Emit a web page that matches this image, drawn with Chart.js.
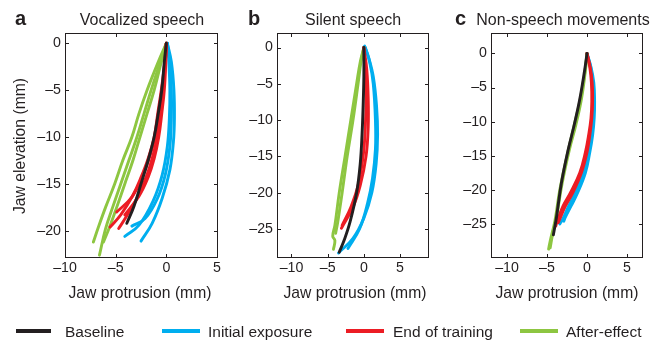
<!DOCTYPE html>
<html>
<head>
<meta charset="utf-8">
<script src="https://cdn.jsdelivr.net/npm/chart.js@4.4.0/dist/chart.umd.min.js"></script>
<style>
  body { margin:0; background:#fff; width:655px; height:341px; overflow:hidden; position:relative;
         font-family:"Liberation Sans", Arial, Helvetica, sans-serif; color:#231f20; }
  canvas { position:absolute; left:0; top:0; }
  .t { position:absolute; font-size:15.7px; line-height:15.7px; white-space:nowrap; }
  .h { position:absolute; font-size:16px; line-height:16px; white-space:nowrap; }
  .g { position:absolute; font-size:15.5px; line-height:15.5px; white-space:nowrap; }
  .c { transform:translateX(-50%); }
  .lt { position:absolute; font-size:20px; line-height:20px; font-weight:bold; }
  .yl { position:absolute; font-size:15.7px; line-height:15.7px; white-space:nowrap;
        transform:translate(-50%,-50%) rotate(-90deg); }
  .sw { position:absolute; height:4px; top:329px; }
</style>
</head>
<body>
<canvas id="pa" width="655" height="341"></canvas>
<canvas id="pb" width="655" height="341"></canvas>
<canvas id="pc" width="655" height="341"></canvas>

<div class="lt" style="left:15px;top:8px">a</div>
<div class="lt" style="left:248px;top:8px">b</div>
<div class="lt" style="left:455px;top:8px">c</div>
<div class="h c" style="left:142px;top:11.5px">Vocalized speech</div>
<div class="h c" style="left:353px;top:11.5px">Silent speech</div>
<div class="h c" style="left:563px;top:11.5px">Non-speech movements</div>

<div class="yl" style="left:20px;top:146px">Jaw elevation (mm)</div>
<div class="t c" style="left:140px;top:285px">Jaw protrusion (mm)</div>
<div class="t c" style="left:355px;top:285px">Jaw protrusion (mm)</div>
<div class="t c" style="left:567px;top:285px">Jaw protrusion (mm)</div>

<div class="sw" style="left:16px;width:35px;background:#231f20"></div>
<div class="g" style="left:65px;top:324px">Baseline</div>
<div class="sw" style="left:162px;width:38px;background:#00aeef"></div>
<div class="g" style="left:208px;top:324px">Initial exposure</div>
<div class="sw" style="left:346px;width:38px;background:#ec1c24"></div>
<div class="g" style="left:393px;top:324px">End of training</div>
<div class="sw" style="left:520px;width:38px;background:#8dc641"></div>
<div class="g" style="left:566px;top:324px">After-effect</div>

<script>
// tick values
const xTicks = [-10, -5, 0, 5];
const yTicksA = [0, -5, -10, -15, -20];
const yTicksBC = [0, -5, -10, -15, -20, -25];

// a: vocalized speech, traces of [protrusion, elevation]
const vocBaseline = [
  [[0,0],[-0.2,-2],[-0.45,-5],[-0.8,-7.5],[-1.2,-10],[-1.8,-12.5],[-2.5,-15],[-3.2,-17.4],[-3.9,-19.2]]
];
const vocInitial = [
  [[0.1,0],[0.5,-2],[0.75,-5],[0.8,-8],[0.7,-10.5],[0.35,-13.5],[-0.4,-16.5],[-1.4,-19.2],[-2.5,-21.1]],
  [[0.1,0],[0.35,-2],[0.5,-5],[0.5,-8],[0.35,-11],[-0.1,-14],[-0.9,-16.6],[-2.1,-18.7],[-3.4,-19.5]],
  [[0.1,0],[0.25,-2],[0.35,-5],[0.3,-8],[0.1,-11],[-0.4,-14],[-1.3,-16.8],[-2.7,-19.4],[-4.1,-20.6]]
];
const vocEnd = [
  [[0,0],[-0.15,-2],[-0.5,-5],[-0.85,-7.5],[-1.2,-10],[-1.8,-12.3],[-2.5,-14.3],[-3.3,-16.2],[-4.5,-18.3],[-5.55,-19.6]],
  [[0,0],[-0.1,-2],[-0.3,-5],[-0.6,-7.5],[-0.9,-10],[-1.4,-12.3],[-2.0,-14.3],[-2.8,-16.3],[-3.9,-18.4],[-4.7,-19.75]],
  [[0,0],[-0.1,-2],[-0.4,-5],[-0.75,-7.5],[-1.1,-10],[-1.7,-12.3],[-2.4,-14.3],[-3.4,-16.4],[-4.9,-18.0]],
  [[0,0],[-0.05,-2],[-0.2,-5],[-0.45,-7.5],[-0.75,-10],[-1.2,-12.3],[-1.8,-14.3],[-2.7,-16.3],[-4.1,-18.3]]
];
const vocAfter = [
  [[0,0],[-0.8,-2],[-1.9,-5],[-2.7,-7.5],[-3.4,-10],[-4.3,-12.5],[-5.1,-15],[-6.0,-17.5],[-6.7,-19.6],[-7.2,-21.2]],
  [[0,0],[-0.6,-2],[-1.5,-5],[-2.2,-7.5],[-2.9,-10],[-3.7,-12.5],[-4.5,-15],[-5.3,-17.5],[-6.0,-19.8],[-6.6,-22.6]],
  [[0,0],[-0.5,-2],[-1.2,-5],[-1.9,-7.5],[-2.6,-10],[-3.3,-12.5],[-4.1,-15],[-4.9,-17.5],[-5.6,-19.6],[-6.2,-21.2]]
];

// b: silent speech
const silBaseline = [
  [[0,0],[0,-4],[-0.1,-8],[-0.25,-12],[-0.5,-16],[-1.0,-20],[-1.9,-24],[-2.7,-26.5],[-3.4,-28.2]]
];
const silInitial = [
  [[0.1,0.2],[0.7,-1.5],[1.3,-4],[1.75,-8],[1.9,-12],[1.7,-16],[1.1,-20],[0,-23.5],[-1.5,-26.3],[-3.5,-28.3]],
  [[0.2,0],[0.8,-2],[1.3,-5],[1.6,-10],[1.6,-14],[1.2,-18],[0.5,-21.5],[-0.6,-25],[-2.2,-27.7]]
];
const silEnd = [
  [[0,0],[0.4,-3],[0.6,-7],[0.6,-11],[0.3,-15],[-0.5,-19],[-1.5,-22],[-3.1,-24.9]],
  [[0,0],[0.2,-3],[0.3,-7],[0.2,-11],[-0.1,-15],[-0.8,-19],[-1.8,-22],[-3.0,-24.5]]
];
const silAfter = [
  [[0,0],[-0.5,-2],[-1.0,-5],[-1.8,-10],[-2.6,-15],[-3.4,-20],[-4.0,-24.5],[-4.3,-26],[-4.0,-26.6],[-4.2,-27.8]],
  [[0,0],[-0.4,-2],[-0.8,-5],[-1.5,-10],[-2.3,-15],[-3.0,-20],[-3.6,-24],[-3.9,-25.6]]
];

// c: non-speech movements
const nonBaseline = [
  [[0,0],[-0.3,-2.5],[-0.9,-6.7],[-1.6,-10.5],[-2.35,-14.1],[-3.2,-19],[-3.8,-23.9],[-4.2,-26.6]]
];
const nonInitial = [
  [[0,0],[0.45,-2],[0.75,-4.3],[0.85,-7],[0.8,-9.5],[0.55,-12],[0.2,-14.5],[-0.4,-17.5],[-1.5,-20.5],[-2.3,-22.4],[-3.0,-24.2],[-3.4,-25]],
  [[0,0],[0.5,-2],[0.85,-4.3],[0.95,-7],[0.9,-9.5],[0.7,-12],[0.35,-14.5],[-0.2,-17.5],[-1.2,-20.5],[-2.0,-22.4],[-2.7,-24.0],[-2.9,-24.6]]
];
const nonEnd = [
  [[0,0],[0.35,-2],[0.55,-4.3],[0.6,-7],[0.5,-9.5],[0.2,-12],[-0.2,-14.5],[-0.9,-17.5],[-2.1,-20.5],[-3.0,-22.4],[-3.6,-24.2],[-3.9,-25.3]],
  [[0,0],[0.4,-2],[0.65,-4.3],[0.7,-7],[0.6,-9.5],[0.35,-12],[0,-14.5],[-0.7,-17.5],[-1.8,-20.5],[-2.7,-22.4],[-3.3,-24.0],[-3.6,-24.8]]
];
const nonAfter = [
  [[0,0],[-0.2,-2.5],[-0.7,-6.7],[-1.4,-10.5],[-2.2,-14.1],[-3.1,-19],[-3.8,-23.9],[-4.3,-26.5],[-4.6,-28.5]],
  [[0,0],[-0.3,-3],[-0.9,-7],[-1.7,-11],[-2.5,-15],[-3.4,-20],[-4.0,-24.5],[-4.6,-27.5],[-4.8,-28.7]]
];

const COL = { base:'#231f20', init:'#00aeef', end:'#ec1c24', after:'#8dc641' };
const ink = '#231f20';

// box round the plot with inward ticks on all four sides
const boxTicks = {
  id: 'boxTicks',
  afterDraw(chart) {
    const { ctx, chartArea: a, scales: { x, y } } = chart;
    ctx.save();
    ctx.strokeStyle = ink;
    ctx.lineWidth = 1;
    ctx.strokeRect(a.left + 0.5, a.top + 0.5, a.right - a.left - 1, a.bottom - a.top - 1);
    ctx.beginPath();
    x.ticks.forEach(t => {
      const p = Math.round(x.getPixelForValue(t.value)) + 0.5;
      ctx.moveTo(p, a.bottom); ctx.lineTo(p, a.bottom - 4);
      ctx.moveTo(p, a.top); ctx.lineTo(p, a.top + 4);
    });
    y.ticks.forEach(t => {
      const p = Math.round(y.getPixelForValue(t.value)) + 0.5;
      ctx.moveTo(a.left, p); ctx.lineTo(a.left + 4, p);
      ctx.moveTo(a.right, p); ctx.lineTo(a.right - 4, p);
    });
    ctx.stroke();
    ctx.restore();
  }
};

const fmt = v => v < 0 ? '\u2013' + Math.abs(v) : String(v);

function traces(list, color) {
  return list.map(tr => ({
    data: tr.map(p => ({ x: p[0], y: p[1] })),
    showLine: true, borderColor: color, borderWidth: 2.9, pointRadius: 0,
    tension: 0.4, fill: false, borderCapStyle: 'round', borderJoinStyle: 'round'
  }));
}

function panel(id, sets, xr, yr, yTicks, left, right) {
  // first dataset is drawn on top
  const datasets = [].concat(
    traces(sets.base, COL.base), traces(sets.end, COL.end),
    traces(sets.after, COL.after), traces(sets.init, COL.init));
  new Chart(document.getElementById(id), {
    type: 'scatter',
    data: { datasets },
    options: {
      responsive: false, animation: false,
      layout: { padding: { left: left - 40, right: 655 - right, top: 33, bottom: 341 - 258 - 20 } },
      plugins: { legend: { display: false }, tooltip: { enabled: false } },
      scales: {
        x: {
          type: 'linear', min: xr[0], max: xr[1],
          afterBuildTicks: s => { s.ticks = xTicks.map(v => ({ value: v })); },
          afterFit: s => { s.height = 20; },
          grid: { display: false, drawTicks: false }, border: { display: false },
          ticks: { padding: 2, color: ink, font: { family: 'Liberation Sans', size: 14.2 }, callback: fmt, maxRotation: 0 }
        },
        y: {
          type: 'linear', min: yr[0], max: yr[1],
          afterBuildTicks: s => { s.ticks = yTicks.map(v => ({ value: v })); },
          afterFit: s => { s.width = 40; },
          grid: { display: false, drawTicks: false }, border: { display: false },
          ticks: { padding: 4, color: ink, font: { family: 'Liberation Sans', size: 14.2 }, callback: fmt }
        }
      }
    },
    plugins: [boxTicks]
  });
}

panel('pa', { base: vocBaseline, init: vocInitial, end: vocEnd, after: vocAfter },
      [-10, 5.1], [-22.9, 1.1], yTicksA, 65, 218);
panel('pb', { base: silBaseline, init: silInitial, end: silEnd, after: silAfter },
      [-12, 9], [-29, 2], yTicksBC, 277, 429);
panel('pc', { base: nonBaseline, init: nonInitial, end: nonEnd, after: nonAfter },
      [-12, 7], [-30, 3], yTicksBC, 491, 643);
</script>
</body>
</html>
